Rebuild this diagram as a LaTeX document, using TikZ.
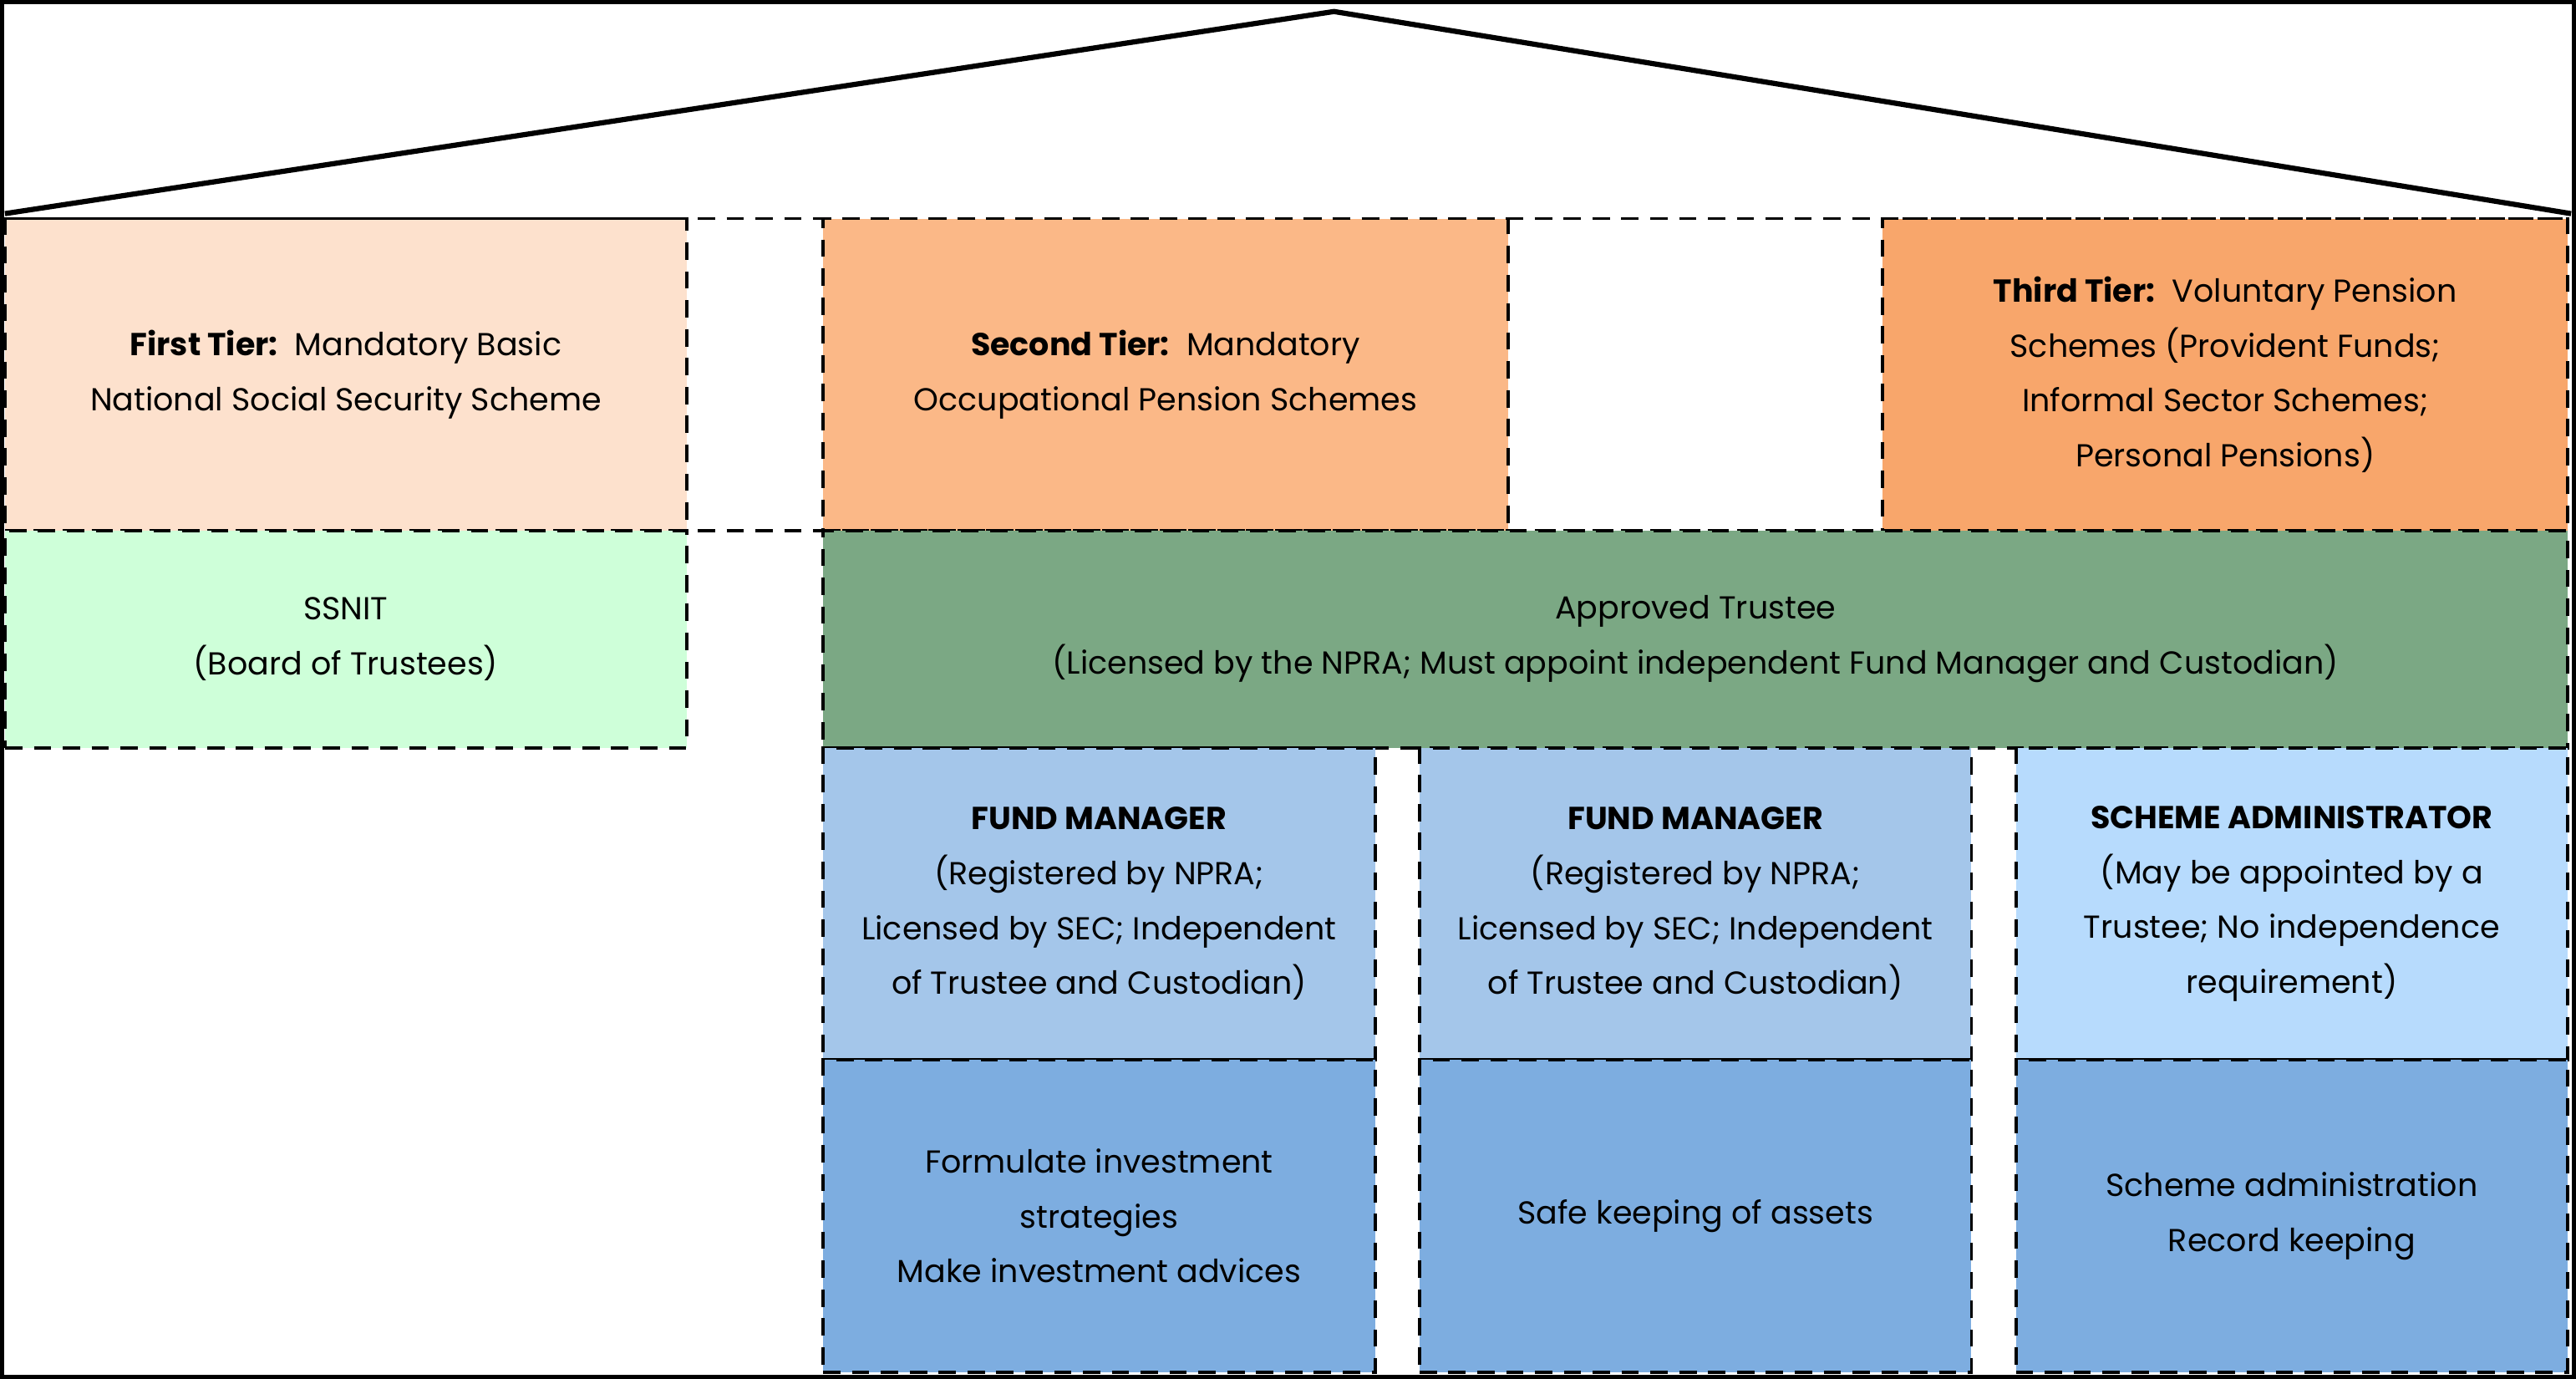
\documentclass[tikz,border=0pt]{standalone}
\usepackage{fontspec}
\setmainfont{Poppins}
\definecolor{tierone}{HTML}{FDE1CD}
\definecolor{tiertwo}{HTML}{FBB887}
\definecolor{tierthree}{HTML}{F8A66B}
\definecolor{ssnitgreen}{HTML}{CEFFD9}
\definecolor{trusteegreen}{HTML}{7BA884}
\definecolor{managerblue}{HTML}{A4C6EA}
\definecolor{adminblue}{HTML}{B7DBFD}
\definecolor{taskblue}{HTML}{7DADE0}
\tikzset{
  box/.style={draw, dash pattern=on 6pt off 4pt, line width=1.1pt, align=center,
    inner sep=0pt, font=\fontsize{11}{19}\selectfont},
  wall/.style={line width=1.8pt},
}
\begin{document}
\begin{tikzpicture}[x=0.02cm, y=-0.02cm]
\useasboundingbox (0,0) rectangle (1568,839);
% tiers
\node[box, fill=tierone, minimum width=8.30cm, minimum height=3.80cm] (tier_1) at (210.5,228)
  {\textbf{First Tier:}\ \ Mandatory Basic\\National Social Security Scheme};
\node[box, fill=tiertwo, minimum width=8.34cm, minimum height=3.80cm] (tier_2) at (709.5,228)
  {\textbf{Second Tier:}\ \ Mandatory\\Occupational Pension Schemes};
\node[box, fill=tierthree, minimum width=8.34cm, minimum height=3.80cm] (tier_3) at (1354.5,228)
  {\textbf{Third Tier:}\ \ Voluntary Pension\\Schemes (Provident Funds;\\Informal Sector Schemes;\\Personal Pensions)};
\draw[box] (3,133) -- (1563,133);
\draw[box] (3,323) -- (1563,323);
% trustees
\node[box, fill=ssnitgreen, minimum width=8.30cm, minimum height=2.64cm] (ssnit) at (210.5,389)
  {SSNIT\\(Board of Trustees)};
\node[box, fill=trusteegreen, minimum width=21.24cm, minimum height=2.64cm] (trustee) at (1032,389)
  {Approved Trustee\\(Licensed by the NPRA; Must appoint independent Fund Manager and Custodian)};
% service providers
\node[box, fill=managerblue, minimum width=6.72cm, minimum height=3.80cm] (manager_1) at (669,550)
  {\textbf{FUND MANAGER}\\(Registered by NPRA;\\Licensed by SEC; Independent\\of Trustee and Custodian)};
\node[box, fill=managerblue, minimum width=6.72cm, minimum height=3.80cm] (manager_2) at (1032,550)
  {\textbf{FUND MANAGER}\\(Registered by NPRA;\\Licensed by SEC; Independent\\of Trustee and Custodian)};
\node[box, fill=adminblue, minimum width=6.72cm, minimum height=3.80cm] (admin) at (1395,550)
  {\textbf{SCHEME ADMINISTRATOR}\\(May be appointed by a\\Trustee; No independence\\requirement)};
\node[box, fill=taskblue, minimum width=6.72cm, minimum height=3.80cm] (task_1) at (669,740)
  {Formulate investment\\strategies\\Make investment advices};
\node[box, fill=taskblue, minimum width=6.72cm, minimum height=3.80cm] (task_2) at (1032,740)
  {Safe keeping of assets};
\node[box, fill=taskblue, minimum width=6.72cm, minimum height=3.80cm] (task_3) at (1395,740)
  {Scheme administration\\Record keeping};
% house
\draw[wall] (1,1) rectangle (1567,838);
\draw[wall] (3,130) -- (812,7) -- (1565,130);
\end{tikzpicture}
\end{document}
